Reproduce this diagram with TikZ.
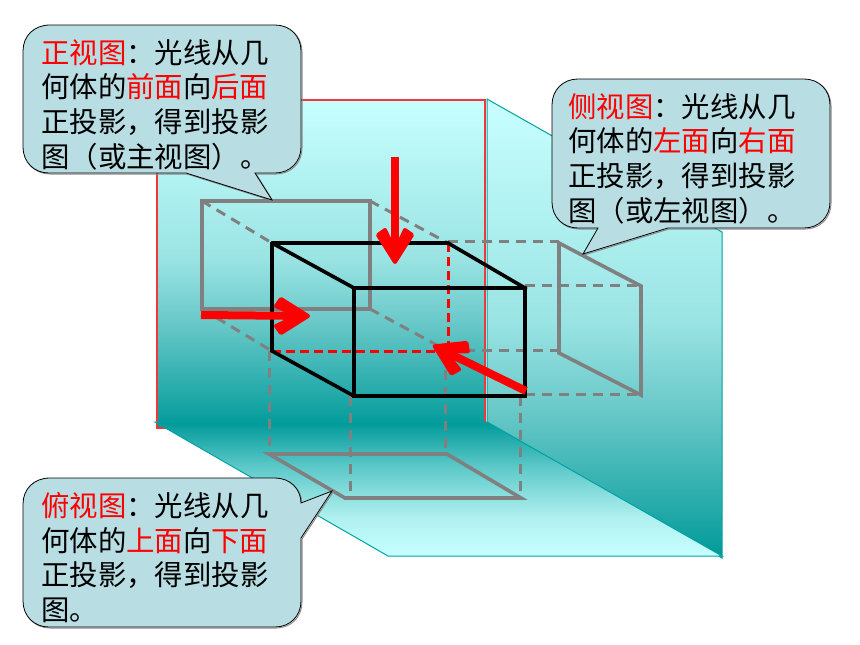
\documentclass[tikz,border=0pt]{standalone}
\usepackage{fontspec}
\newfontfamily\cjk{Noto Sans CJK SC}
\definecolor{tealline}{HTML}{00A3A3}
\definecolor{bubble}{HTML}{B8DDE2}
\definecolor{wallred}{HTML}{F03838}
\definecolor{pgray}{HTML}{808080}
\definecolor{sa}{RGB}{0,153,153}
\definecolor{sb}{RGB}{37,170,170}
\definecolor{sc}{RGB}{105,200,200}
\definecolor{sd}{RGB}{155,228,228}
\definecolor{se}{RGB}{200,255,255}
\definecolor{sf}{RGB}{176,240,240}
\definecolor{sg}{RGB}{92,200,200}
\pgfdeclareverticalshading{wallshade}{100bp}{
  color(0bp)=(sa);
  color(25bp)=(sa);
  color(30.5bp)=(sb);
  color(41bp)=(sc);
  color(51bp)=(sd);
  color(75bp)=(se);
  color(100bp)=(se)}
\pgfdeclareverticalshading{floorshade}{100bp}{
  color(0bp)=(se);
  color(25bp)=(se);
  color(39.5bp)=(sf);
  color(58.5bp)=(sg);
  color(75bp)=(sa);
  color(100bp)=(sa)}
\newcommand{\rr}[1]{\textcolor{red}{#1}}
\newcommand{\frontpath}{(50,25) -- (275,25) .. controls (290,25) and (301,36) .. (301,51) -- (301,147) .. controls (301,162) and (290,173) .. (275,173) -- (255,173) -- (272,200) -- (186,173) -- (49,173) .. controls (34,173) and (23,162) .. (23,147) -- (23,51) .. controls (23,36) and (34,25) .. (50,25) -- cycle}
\newcommand{\sidepath}{(578,79) -- (804,79) .. controls (819,79) and (830,90) .. (830,105) -- (830,202) .. controls (830,217) and (819,228) .. (804,228) -- (668,228) -- (583,254) -- (598,228) -- (578,228) .. controls (563,228) and (552,217) .. (552,202) -- (552,105) .. controls (552,90) and (563,79) .. (578,79) -- cycle}
\newcommand{\toppath}{(50,478) -- (275,478) .. controls (290,478) and (301,489) .. (301,503) -- (332,491) -- (301,538) -- (301,601) .. controls (301,616) and (290,627) .. (275,627) -- (49,627) .. controls (34,627) and (23,616) .. (23,601) -- (23,504) .. controls (23,489) and (34,478) .. (50,478) -- cycle}
\tikzset{
  backwall/.style={draw=wallred,line width=1.3pt,shade,shading=wallshade},
  sidewall/.style={draw=tealline,line width=1pt,shade,shading=wallshade},
  floorpl/.style={draw=tealline,line width=1pt,shade,shading=floorshade},
  proj/.style={draw=pgray,line width=3.6pt,line join=miter},
  projdash/.style={draw=pgray,line width=3pt,dash pattern=on 10pt off 7pt},
  hidden/.style={draw=red,line width=3pt,dash pattern=on 9pt off 5pt},
  edge3/.style={draw=black,line width=3.6pt,line cap=round},
  edge4/.style={draw=black,line width=4.8pt,line cap=round},
  rayshaft/.style={draw=red,line width=8pt,shorten >=14pt},
  rayhead/.pic={\path[fill=red,draw=red,line width=4pt,line join=round]
    (-3,0) -- (-30,-17) -- (-35,-10) -- (-14,0) -- (-35,10) -- (-30,17) -- cycle;},
  bubbleshape/.style={fill=bubble,draw=black,line width=0.8pt},
  bubbleshadow/.style={draw=black!45,line width=1pt},
  bubbletext/.style={font=\cjk\fontsize{28.4}{34.8}\selectfont,align=left,anchor=north west,inner sep=0pt,text=black}
}
\begin{document}
\begin{tikzpicture}[x=1pt,y=-1pt]
\useasboundingbox (0,0) rectangle (860,645);
% planes
\path[backwall] (157,100) rectangle (485,428);
\path[sidewall] (487,99) -- (722,232) -- (722,558) -- (487,422) -- cycle;
\path[floorpl] (155,422) -- (487,422) -- (722,556) -- (388,556) -- cycle;
% front projection
\coordinate (fa) at (202,201); \coordinate (fb) at (370,201);
\coordinate (fc) at (370,309); \coordinate (fd) at (202,309);
% object
\coordinate (a) at (272,243); \coordinate (b) at (448,243);
\coordinate (c) at (525,288); \coordinate (d) at (354,288);
\coordinate (e) at (272,351); \coordinate (f) at (448,351);
\coordinate (g) at (525,396); \coordinate (h) at (354,396);
% side projection
\coordinate (pa) at (559,243); \coordinate (pb) at (641,286);
\coordinate (pc) at (641,395); \coordinate (pd) at (559,353);
% floor projection
\coordinate (ba) at (269,454); \coordinate (bb) at (447,454);
\coordinate (bc) at (521,498); \coordinate (bd) at (345,498);
% projector lines
\draw[projdash] (fa) -- (a);
\draw[projdash] (fb) -- (b);
\draw[projdash] (fd) -- (e);
\draw[projdash] (fc) -- (f);
\draw[projdash] (448,241) -- (559,241);
\draw[projdash] (525,285) -- (641,285);
\draw[projdash] (448,350) -- (559,350);
\draw[projdash] (525,394) -- (641,394);
\draw[projdash] (269,351) -- (269,454);
\draw[projdash] (350,396) -- (350,498);
\draw[projdash] (445,353) -- (445,454);
\draw[projdash] (520,396) -- (520,498);
% projections
\draw[proj] (fa) -- (fb) -- (fc) -- (fd) -- cycle;
\draw[proj] (pa) -- (pb) -- (pc) -- (pd) -- cycle;
\draw[proj] (ba) -- (bb) -- (bc) -- (bd) -- cycle;
% hidden edges
\draw[hidden] (e) -- (f);
\draw[hidden] (b) -- (f);
% solid edges
\draw[edge3] (a) -- (b) -- (c);
\draw[edge3] (a) -- (d);
\draw[edge3] (a) -- (e) -- (h);
\draw[edge4] (d) -- (c);
\draw[edge3] (d) -- (h) -- (g) -- (c);
% rays
\coordinate (r1a) at (395,157); \coordinate (r1b) at (395,265);
\coordinate (r2a) at (201,315); \coordinate (r2b) at (311,316);
\coordinate (r3a) at (526,391); \coordinate (r3b) at (432,345);
\draw[rayshaft] (r1a) -- (r1b);
\pic[rotate=-90] at (r1b) {rayhead};
\draw[rayshaft] (r2a) -- (r2b);
\pic at (r2b) {rayhead};
\draw[rayshaft] (r3a) -- (r3b);
\pic[rotate=154] at (r3b) {rayhead};
% callouts: shadow then body
\draw[bubbleshadow,shift={(1,1)}] \frontpath;
\path[bubbleshape] \frontpath;
\node[bubbletext] (front) at (41,39) {\rr{正视图}：光线从几\\何体的\rr{前面}向\rr{后面}\\正投影，得到投影\\图（或主视图）。};
\draw[bubbleshadow,shift={(1,1)}] \sidepath;
\path[bubbleshape] \sidepath;
\node[bubbletext] (side) at (568,93) {\rr{侧视图}：光线从几\\何体的\rr{左面}向\rr{右面}\\正投影，得到投影\\图（或左视图）。};
\draw[bubbleshadow,shift={(1,1)}] \toppath;
\path[bubbleshape] \toppath;
\node[bubbletext] (top) at (41,492) {\rr{俯视图}：光线从几\\何体的\rr{上面}向\rr{下面}\\正投影，得到投影\\图。};
\end{tikzpicture}
\end{document}
